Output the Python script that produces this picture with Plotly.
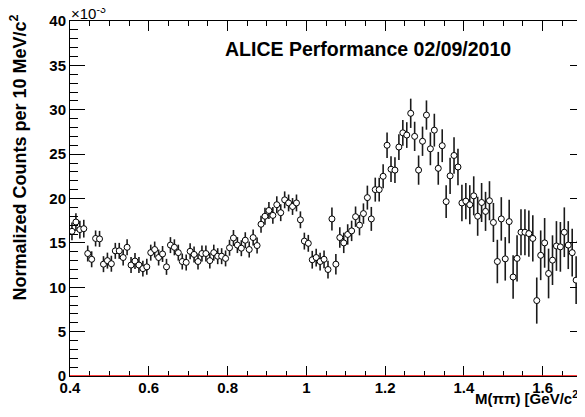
import plotly.graph_objects as go

# M(pipi) bin centres in GeV/c^2 (10 MeV bins starting at 0.40)
mass = [round(0.405 + 0.01 * i, 3) for i in range(131)]

# normalized counts per 10 MeV/c^2, in units of 1e-3
counts = [
    16.3, 17.35, 16.5, 16.6, 13.8, 13.15, 15.5, 15.45, 12.6, 13.0,
    12.65, 14.1, 14.1, 13.35, 14.5, 12.5, 12.95, 12.5, 12.1, 12.3,
    13.9, 14.25, 13.35, 13.75, 12.3, 14.75, 14.5, 13.9, 12.9, 12.8,
    14.05, 13.7, 12.9, 13.8, 13.8, 13.0, 13.9, 13.5, 13.5, 13.25,
    14.45, 15.55, 14.75, 14.4, 15.3, 14.25, 15.6, 14.7, 17.1, 18.0,
    18.65, 18.1, 19.3, 18.4, 19.85, 19.5, 19.1, 19.5, 17.6, 15.2,
    14.95, 13.1, 13.35, 12.9, 13.15, 12.0, 17.7, 12.6, 15.6, 15.0,
    15.95, 16.35, 17.95, 17.0, 18.3, 20.1, 17.7, 21.0, 21.0, 22.5,
    26.0, 23.3, 23.2, 25.8, 27.4, 27.15, 29.6, 27.0, 23.2, 26.45,
    29.4, 25.6, 27.7, 23.4, 25.95, 19.65, 22.55, 24.85, 23.55, 19.5,
    19.7, 19.3, 20.3, 18.0, 19.55, 18.55, 19.75, 17.3, 12.9, 17.7,
    13.2, 17.4, 11.15, 13.25, 16.2, 16.2, 16.05, 15.5, 8.5, 13.6,
    15.0, 11.55, 13.05, 14.65, 14.55, 16.2, 14.75, 13.9, 10.8, 15.15,
    18.25,
]

errors = [
    1.0, 1.0, 1.0, 1.0, 0.9, 0.9, 0.9, 0.9, 0.9, 0.9,
    0.9, 0.9, 0.9, 0.9, 0.9, 0.9, 0.9, 0.9, 0.9, 0.9,
    0.9, 0.9, 0.9, 0.9, 0.9, 0.9, 0.9, 0.9, 0.9, 0.9,
    0.9, 0.9, 0.9, 0.9, 0.9, 0.9, 0.9, 0.9, 0.9, 0.9,
    0.9, 0.9, 0.9, 0.9, 0.9, 0.9, 0.9, 0.9, 0.95, 0.95,
    0.95, 0.95, 0.95, 0.95, 0.95, 0.95, 0.95, 0.95, 0.95, 0.95,
    0.95, 1.0, 1.0, 1.0, 1.0, 1.0, 1.3, 1.15, 1.15, 1.15,
    1.15, 1.15, 1.15, 1.15, 1.15, 1.35, 1.35, 1.35, 1.35, 1.35,
    1.45, 1.45, 1.45, 1.45, 1.45, 1.45, 1.65, 1.65, 1.65, 1.65,
    1.65, 1.85, 1.85, 1.85, 1.85, 1.85, 2.05, 2.05, 2.05, 2.05,
    2.05, 2.2, 2.2, 2.2, 2.2, 2.2, 2.2, 2.2, 2.45, 2.45,
    2.45, 2.45, 2.45, 2.6, 2.6, 2.6, 2.6, 2.6, 2.6, 2.8,
    2.8, 2.8, 2.8, 2.8, 2.8, 2.8, 2.7, 2.7, 2.7, 2.7,
    2.7,
]

FONT = "Liberation Sans, Arial, Helvetica, sans-serif"

fig = go.Figure()
fig.add_trace(go.Scatter(
    x=mass, y=counts, mode="markers",
    marker=dict(symbol="circle", size=6, color="white", line=dict(color="black", width=1)),
    error_y=dict(type="data", array=errors, width=0, thickness=1.6, color="#1a1a1a"),
    showlegend=False,
))

# red zero line along the bottom of the frame
fig.add_shape(type="line", xref="paper", yref="y", x0=0, x1=1, y0=0, y1=0,
              line=dict(color="#ff0000", width=1.5), layer="above")

# page body has an 8px margin, so the figure is 8px smaller than the window
fig.update_layout(
    width=577, height=409,
    margin=dict(l=62, r=0, t=13, b=41),
    paper_bgcolor="white", plot_bgcolor="white",
    font=dict(family=FONT, color="black"),
)
fig.update_xaxes(
    range=[0.4, 1.7075], tick0=0.4, dtick=0.2,
    showline=True, linecolor="black", linewidth=1, mirror="ticks",
    ticks="inside", ticklen=10, tickcolor="black",
    minor=dict(ticks="inside", ticklen=5, dtick=0.05, tickcolor="black"),
    showgrid=False, zeroline=False,
    tickfont=dict(family=FONT, size=15, weight="bold"),
    ticklabelstandoff=-2,
)
fig.update_yaxes(
    range=[0, 40], tick0=0, dtick=5,
    showline=True, linecolor="black", linewidth=1, mirror="ticks",
    ticks="inside", ticklen=15, tickcolor="black",
    minor=dict(ticks="inside", ticklen=8, dtick=1, tickcolor="black"),
    showgrid=False, zeroline=False,
    tickfont=dict(family=FONT, size=15, weight="bold"),
    ticklabelstandoff=0,
)

fig.add_annotation(text="ALICE Performance 02/09/2010", xref="paper", yref="paper",
                   x=0.579, y=0.921, xanchor="center", yanchor="middle", showarrow=False,
                   font=dict(family=FONT, size=19.5, weight="bold"))
fig.add_annotation(text="×10<sup>-3</sup>", xref="paper", yref="paper",
                   x=-0.002, y=1, xanchor="left", yanchor="bottom", showarrow=False,
                   font=dict(family=FONT, size=15), yshift=-3)
fig.add_annotation(text="Normalized Counts per 10 MeV/c<sup>2</sup>", xref="paper", yref="paper",
                   x=-0.1, y=0.614, xanchor="center", yanchor="middle", textangle=-90,
                   showarrow=False, font=dict(family=FONT, size=18, weight="bold"))
fig.add_annotation(text="M(ππ) [GeV/c<sup>2</sup>]", xref="paper", yref="paper",
                   x=1, y=-0.06, xanchor="right", yanchor="middle", showarrow=False,
                   font=dict(family=FONT, size=15, weight="bold"))

fig.write_html("out.html")
